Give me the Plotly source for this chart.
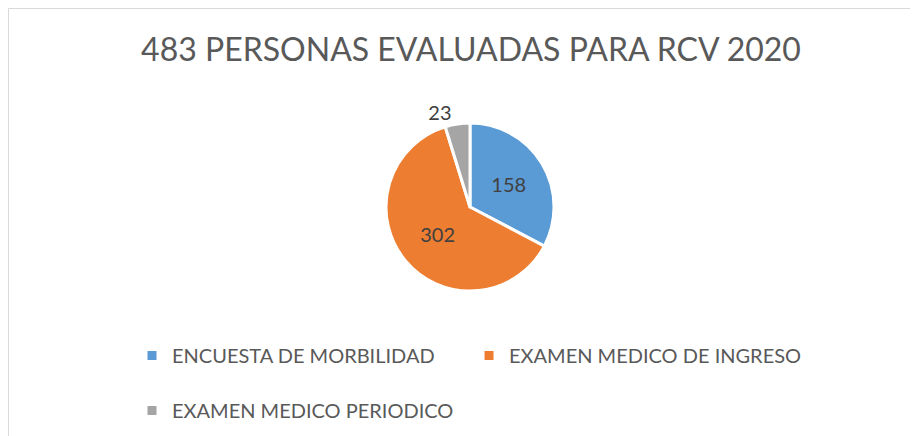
import plotly.graph_objects as go

categories = ["ENCUESTA DE MORBILIDAD", "EXAMEN MEDICO DE INGRESO", "EXAMEN MEDICO PERIODICO"]
values = [158, 302, 23]
colors = ["#5B9BD5", "#ED7D31", "#A5A5A5"]
title_text = "483 PERSONAS EVALUADAS PARA RCV 2020"

W, H = 918, 436
FONT = "Lato, Open Sans, sans-serif"

# legend labels get an extra empty line to reproduce the tall legend rows
legend_labels = [c + "<br> " for c in categories]

fig = go.Figure(go.Pie(
    labels=legend_labels,
    values=values,
    sort=False,
    direction="clockwise",
    rotation=0,
    marker=dict(colors=colors, line=dict(color="white", width=3)),
    textinfo="value",
    textposition=["inside", "inside", "outside"],
    insidetextorientation="horizontal",
    textfont=dict(family=FONT, size=20, color="#404040"),
    domain=dict(x=[378 / W, 546 / W], y=[1 - 283 / H, 1 - 115 / H]),
    hoverinfo="value+percent",
))

fig.update_layout(
    width=W, height=H,
    margin=dict(l=0, r=0, t=0, b=0, autoexpand=False),
    paper_bgcolor="white",
    plot_bgcolor="white",
    title=dict(text=title_text, x=463 / W, xanchor="center", y=1 - 42 / H, yanchor="middle",
               font=dict(family=FONT, size=32, color="#595959")),
    legend=dict(orientation="h", x=124 / W, xanchor="left", y=1 - 328 / H, yanchor="top",
                font=dict(family=FONT, size=20, color="#595959"),
                itemwidth=30,
                valign="top", traceorder="normal", bgcolor="rgba(0,0,0,0)"),
    shapes=[dict(type="rect", xref="paper", yref="paper",
                 x0=0.5 / W, x1=1.05, y0=-0.05, y1=1 - 0.5 / H,
                 line=dict(color="#D9D9D9", width=1), fillcolor="rgba(0,0,0,0)", layer="below")],
)

fig.write_html("out.html")
